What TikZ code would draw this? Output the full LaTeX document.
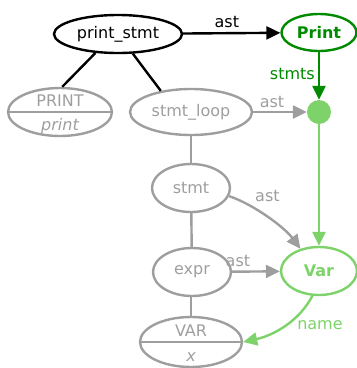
\documentclass[tikz,border=0pt]{standalone}
\usepackage{fontspec}
\setmainfont{DejaVu Sans}
\usetikzlibrary{arrows.meta,shapes.geometric}
\definecolor{greyc}{HTML}{9E9E9E}
\definecolor{darkg}{HTML}{008A00}
\definecolor{lightg}{HTML}{7DD36A}
\tikzset{
  x=1pt,y=1pt,
  every node/.style={font=\fontsize{16}{19}\selectfont},
  oval/.style={ellipse,draw,line width=2.4pt,inner sep=0pt},
  txt/.style={inner sep=0pt,anchor=base},
  conn/.style={line width=2.4pt},
  arr/.style={conn,-{Triangle[length=14pt,width=13pt]}},
  lbl/.style={inner sep=1pt},
}
\begin{document}
\begin{tikzpicture}
\useasboundingbox (0,0) rectangle (357,-368);
% main nodes
\node[oval,black,minimum width=128,minimum height=38] (ps) at (118,-34) {print\_stmt};
\node[oval,darkg,minimum width=75,minimum height=37] (Pr) at (319,-32.5) {\textbf{Print}};
\node[circle,fill=lightg,inner sep=0pt,minimum size=24] (dot) at (319,-112) {};
\node[oval,greyc,text=greyc,minimum width=122,minimum height=46] (sl) at (191,-112) {stmt\_loop};
\node[oval,greyc,text=greyc,minimum width=78,minimum height=48] (st) at (191,-188) {stmt};
\node[oval,greyc,text=greyc,minimum width=78,minimum height=48] (ex) at (192,-272) {expr};
\node[oval,lightg,text=lightg,minimum width=76,minimum height=48] (Var) at (319,-271) {\textbf{Var}};
% split token nodes
\node[oval,greyc,minimum width=104,minimum height=48] (PR) at (60,-112) {};
\draw[conn,greyc] (PR.west) -- (PR.east);
\node[txt,text=greyc] (PRt) at (60,-106) {PRINT};
\node[txt,text=greyc] (PRb) at (60,-130) {\itshape print};
\node[oval,greyc,minimum width=102,minimum height=50] (VA) at (191,-342) {};
\draw[conn,greyc] (VA.west) -- (VA.east);
\node[txt,text=greyc] (VAt) at (191,-336) {VAR};
\node[txt,text=greyc] (VAb) at (191,-361) {\itshape x};
% tree edges
\draw[conn,black] (ps.220) -- (PR.85);
\draw[conn,black] (ps.307) -- (sl.145);
\draw[conn,greyc] (sl) -- (st);
\draw[conn,greyc] (st) -- (ex);
\draw[conn,greyc] (ex.south -| VA.north) -- (VA.north);
% ast edges
\draw[arr,black] (ps) -- node[lbl,above,pos=0.45,yshift=3pt] {ast} (Pr);
\draw[arr,darkg] (Pr) -- node[lbl,left,text=darkg,xshift=-2pt,yshift=2pt] {stmts} (dot);
\draw[arr,greyc] (sl) -- node[lbl,above,pos=0.35,text=greyc,yshift=2pt] {ast} (dot);
\draw[arr,lightg] (dot) -- (Var);
\draw[arr,greyc] (st.-12) .. controls (255,-205) and (285,-228) .. node[lbl,above right,pos=0.3,text=greyc,yshift=4pt] {ast} (Var.130);
\draw[arr,greyc] (ex) -- node[lbl,above,pos=0.12,text=greyc,yshift=3pt] {ast} (Var);
\draw[arr,lightg] (Var.-105) .. controls (300,-320) and (275,-335) .. node[lbl,right,pos=0.5,text=lightg,xshift=10pt,yshift=0pt] {name} (VA.east);
\end{tikzpicture}
\end{document}
